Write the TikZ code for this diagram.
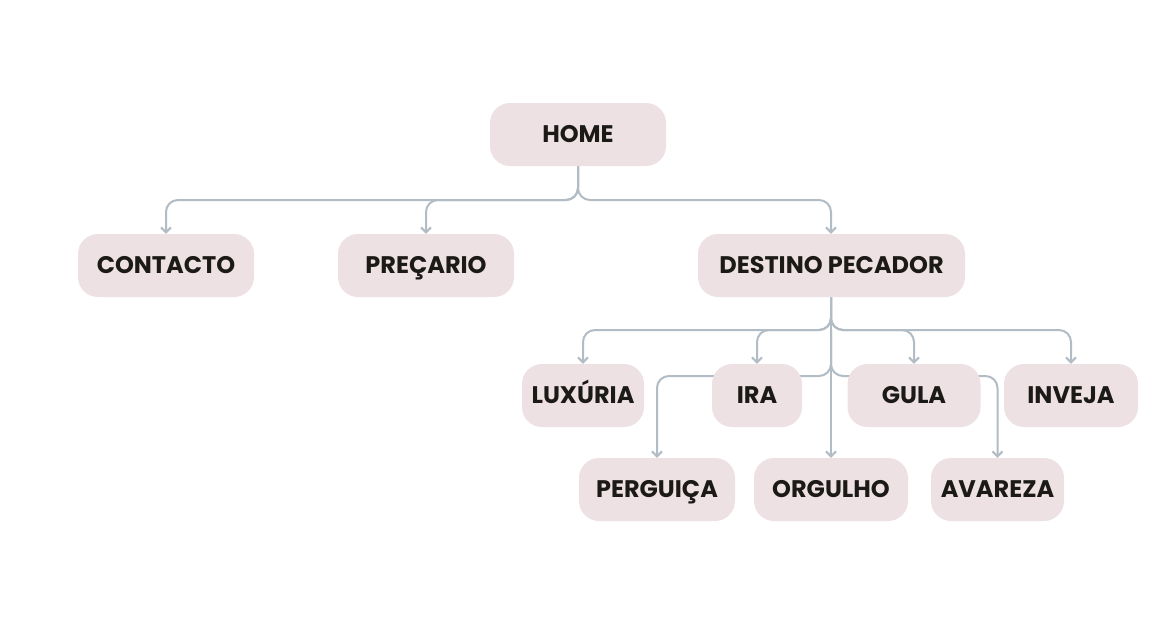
\documentclass[tikz,border=0pt]{standalone}
\usepackage{fontspec}
\setmainfont{Poppins}
\usetikzlibrary{arrows.meta,backgrounds}
\definecolor{boxfill}{HTML}{EDE1E4}
\definecolor{linec}{HTML}{B2BCC4}
\definecolor{txt}{HTML}{1C1A17}
\tikzset{
  box/.style={draw=none, fill=boxfill, rounded corners=20pt, minimum height=63pt, inner sep=0pt,
    text height=16.8pt, text depth=0pt, font=\fontsize{24}{28}\selectfont\bfseries, text=txt},
  conn/.style={draw=linec, line width=2pt, rounded corners=12pt, -{Straight Barb[length=5pt,width=10pt,line width=2pt]}}
}
\begin{document}
\begin{tikzpicture}[x=1pt,y=-1pt]
\useasboundingbox (0,0) rectangle (1159,626);
\node[box, minimum width=176pt] (home) at (578,134.5) {HOME};
\node[box, minimum width=176pt] (con) at (166,265.5) {CONTACTO};
\node[box, minimum width=176pt] (pre) at (426,265.5) {PREÇARIO};
\node[box, minimum width=267pt] (des) at (831.5,265.5) {DESTINO PECADOR};
\node[box, minimum width=122pt] (lux) at (583,395.5) {LUXÚRIA};
\node[box, minimum width=90pt] (ira) at (757,395.5) {IRA};
\node[box, minimum width=133pt] (gul) at (914,395.5) {GULA};
\node[box, minimum width=134pt] (inv) at (1071,395.5) {INVEJA};
\node[box, minimum width=156pt] (per) at (657,489.5) {PERGUIÇA};
\node[box, minimum width=154pt] (org) at (831,489.5) {ORGULHO};
\node[box, minimum width=133pt] (ava) at (997.5,489.5) {AVAREZA};
\coordinate (h1) at (578,200);
\coordinate (d1) at (831,330);
\coordinate (d2) at (831,376);
\begin{scope}[on background layer]
\fill[white] (0,0) rectangle (1159,626);
\draw[conn] (home.south) -- (home.south |- h1) -| (con.north);
\draw[conn] (home.south) -- (home.south |- h1) -| (pre.north);
\draw[conn] (home.south) -- (home.south |- h1) -| (des.north -| d1);
\draw[conn] (d1 |- des.south) -- (d1) -| (lux.north);
\draw[conn] (d1 |- des.south) -- (d1) -| (ira.north);
\draw[conn] (d1 |- des.south) -- (d1) -| (gul.north);
\draw[conn] (d1 |- des.south) -- (d1) -| (inv.north);
\draw[conn, rounded corners=0pt] (d1 |- des.south) -- (org.north);
\draw[conn] (d1) -- (d2) -| (per.north);
\draw[conn] (d1) -- (d2) -| (ava.north);
\end{scope}
\end{tikzpicture}
\end{document}
